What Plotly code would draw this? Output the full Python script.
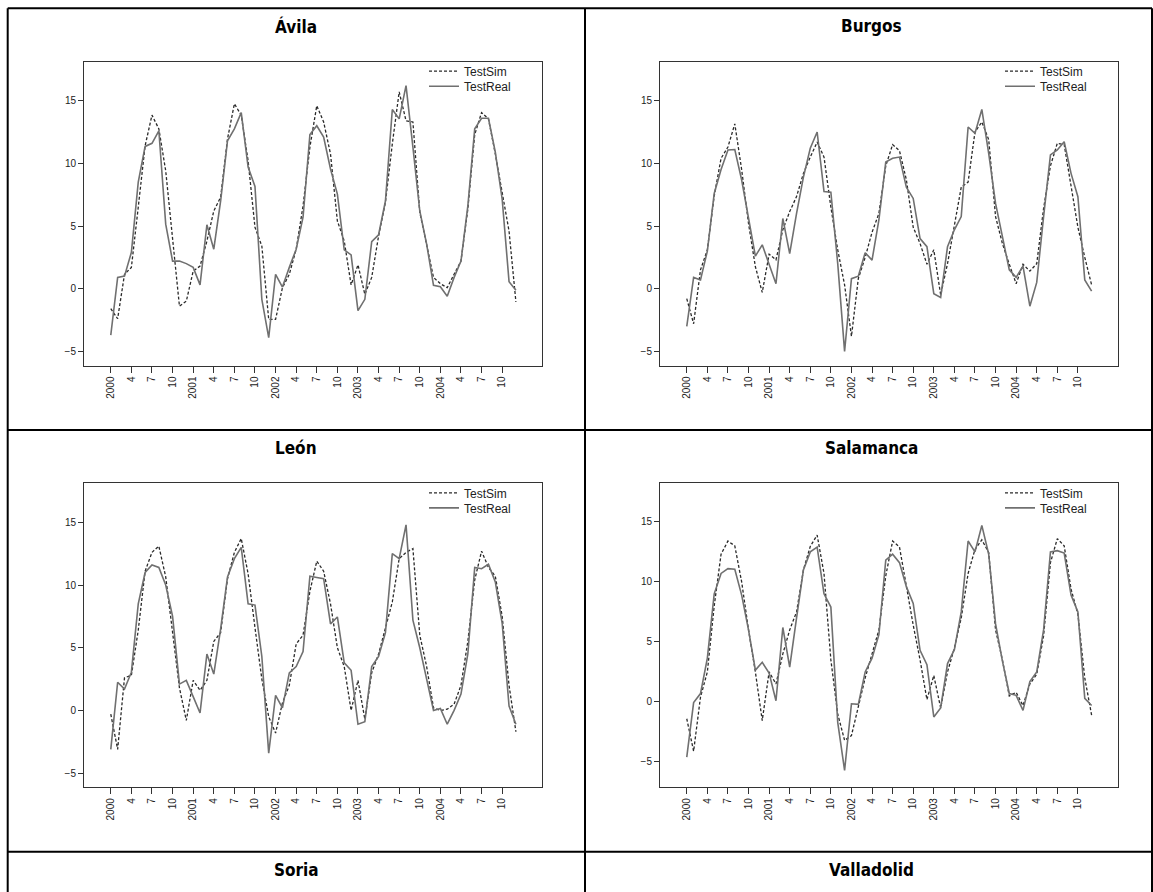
import plotly.graph_objects as go

W, H = 1153, 892

# month index 0..59 = Jan 2000 .. Dec 2004, ticks every quarter
tick_idx = list(range(0, 60, 3))
tick_text = ["2000", "4", "7", "10", "2001", "4", "7", "10", "2002", "4", "7", "10",
             "2003", "4", "7", "10", "2004", "4", "7", "10"]

avila_sim = [-1.6, -2.4, 1.15, 1.7, 6.5, 11.4, 13.85, 12.75, 9.4, 3.8,
             -1.4, -1.0, 1.4, 1.8, 3.8, 6.2, 7.3, 11.95, 14.75, 13.85,
             10.2, 4.9, 3.4, -2.45, -2.45, 0.08, 1.15, 3.15, 6.6, 11.3,
             14.6, 13.3, 10.75, 5.4, 3.8, 0.3, 1.9, -0.45, 0.9, 4.2,
             6.9, 11.55, 15.7, 13.4, 13.3, 6.1, 3.4, 0.9, 0.4, 0.08,
             1.15, 2.2, 6.35, 12.3, 14.05, 13.55, 10.75, 7.8, 4.6, -1.05]
avila_real = [-3.7, 0.9, 1.0, 2.9, 8.5, 11.35, 11.6, 12.6, 5.15, 2.2,
              2.2, 2.0, 1.7, 0.3, 5.1, 3.15, 7.0, 11.8, 12.75, 14.05,
              9.7, 8.15, -0.85, -3.9, 1.15, 0.13, 1.7, 3.15, 5.7, 12.3,
              13.0, 12.1, 9.55, 7.55, 3.1, 2.7, -1.75, -0.85, 3.75, 4.3,
              7.0, 14.3, 13.55, 16.2, 11.3, 6.2, 3.55, 0.27, 0.16, -0.6,
              0.9, 2.2, 6.6, 12.75, 13.6, 13.6, 10.9, 7.15, 0.56, -0.13]

burgos_sim = [-0.8, -2.8, 1.5, 3.1, 7.4, 10.4, 11.3, 13.15, 9.5, 5.2,
              1.75, -0.3, 2.75, 2.3, 4.7, 6.15, 7.35, 9.2, 10.5, 11.7,
              10.5, 6.5, 3.1, 0.3, -3.8, 0.8, 2.5, 4.5, 6.0, 9.8,
              11.5, 11.0, 8.7, 4.9, 3.6, 1.95, 3.1, -0.5, 2.0, 4.9,
              8.1, 8.5, 12.5, 13.3, 11.9, 5.75, 3.6, 1.95, 0.4, 1.95,
              1.4, 2.0, 6.4, 9.8, 11.6, 11.5, 8.1, 4.9, 2.5, 0.3]
burgos_real = [-3.0, 0.9, 0.7, 3.0, 7.6, 9.5, 11.07, 11.1, 8.67, 5.75,
               2.6, 3.5, 2.0, 0.4, 5.6, 2.8, 6.0, 8.9, 11.2, 12.5,
               7.75, 7.7, 2.0, -5.0, 0.8, 1.0, 2.87, 2.28, 5.48, 10.1,
               10.4, 10.5, 8.1, 7.2, 4.0, 3.35, -0.4, -0.7, 3.35, 4.7,
               5.75, 12.9, 12.4, 14.3, 10.8, 6.8, 4.15, 1.5, 0.9, 1.8,
               -1.4, 0.5, 5.75, 10.67, 11.07, 11.73, 9.2, 7.34, 0.7, -0.2]

leon_sim = [-0.3, -3.1, 2.6, 2.8, 6.4, 11.1, 12.6, 13.1, 10.65, 6.0,
            1.8, -0.8, 2.4, 1.6, 2.4, 5.5, 6.2, 10.5, 12.6, 13.7,
            10.9, 6.6, 2.5, -0.5, -1.8, 0.6, 2.0, 5.3, 6.0, 9.5,
            11.9, 11.1, 8.5, 5.0, 3.5, 0.0, 2.4, -0.7, 3.0, 4.5,
            6.5, 8.65, 12.1, 12.6, 12.9, 6.0, 3.5, 0.2, 0.0, 0.1,
            0.5, 2.0, 5.5, 10.4, 12.7, 11.4, 10.7, 7.5, 2.0, -1.7]
leon_real = [-3.1, 2.25, 1.7, 3.05, 8.5, 11.0, 11.6, 11.4, 10.0, 7.5,
             2.1, 2.4, 1.1, -0.2, 4.5, 2.9, 6.5, 10.65, 12.1, 13.0,
             8.5, 8.4, 4.3, -3.4, 1.2, 0.2, 3.0, 3.5, 4.7, 10.7,
             10.6, 10.5, 6.9, 7.45, 3.8, 3.2, -1.1, -0.9, 3.5, 4.3,
             6.2, 12.5, 12.1, 14.8, 7.2, 5.0, 2.5, 0.0, 0.15, -1.1,
             0.0, 1.3, 4.5, 11.4, 11.3, 11.65, 10.25, 6.95, 0.35, -1.1]

salamanca_sim = [-1.4, -4.1, 0.4, 2.5, 8.0, 12.3, 13.4, 13.0, 10.0, 6.0,
                 2.5, -1.55, 2.5, 1.5, 4.0, 6.0, 7.5, 11.0, 12.95, 13.9,
                 10.7, 3.5, -1.0, -3.2, -2.8, -0.5, 2.0, 4.0, 6.0, 10.5,
                 13.4, 12.9, 9.6, 6.4, 3.5, 0.2, 2.2, -0.5, 2.5, 4.5,
                 7.0, 10.7, 12.7, 13.5, 12.45, 6.0, 3.5, 0.5, 0.8, -0.3,
                 1.5, 2.3, 5.5, 11.6, 13.6, 13.0, 9.4, 7.3, 2.0, -1.1]
salamanca_real = [-4.6, -0.05, 0.7, 3.65, 9.0, 10.7, 11.1, 11.05, 8.9, 6.0,
                  2.65, 3.3, 2.4, 0.1, 6.2, 2.9, 7.0, 11.0, 12.5, 12.9,
                  9.0, 7.9, -1.7, -5.7, -0.15, -0.2, 2.5, 3.65, 5.6, 11.8,
                  12.3, 11.6, 9.6, 8.2, 4.3, 3.1, -1.25, -0.5, 3.2, 4.35,
                  7.5, 13.4, 12.5, 14.7, 12.3, 6.5, 3.4, 0.7, 0.55, -0.7,
                  1.7, 2.5, 6.0, 12.5, 12.6, 12.4, 8.9, 7.5, 0.3, -0.3]

titles = ["Ávila", "Burgos", "León", "Salamanca", "Soria", "Valladolid"]
panels = [
    (avila_sim, avila_real, [-6.13, 18.11]),
    (burgos_sim, burgos_real, [-6.13, 18.11]),
    (leon_sim, leon_real, [-6.12, 18.1]),
    (salamanca_sim, salamanca_real, [-7.1, 18.2]),
]

months = list(range(60))

# pixel geometry of the table
ROW_TOP = [8.3, 430.0, 851.7]
COL_X = [7.7, 585.0, 1152.0]
PLOT_X = [(84.0, 542.0), (660.0, 1117.7)]
PLOT_TOP_OFF, PLOT_BOT_OFF = 53.4, 357.2

def px(x):
    return x / W

def py(y):
    return 1 - y / H

FONT = "Liberation Sans, Arial, sans-serif"
TITLE_FONT = "Liberation Sans Narrow, DejaVu Sans Condensed, Arial Narrow, sans-serif"

SERIES = [("TestSim", dict(color="#2a2a2a", width=1.3, dash="3px,2px")),
          ("TestReal", dict(color="#707070", width=1.6))]

fig = go.Figure()
layout = dict(width=W, height=H, margin=dict(l=0, r=0, t=0, b=0),
              paper_bgcolor="white", plot_bgcolor="white", showlegend=True)

for k, (sim, real, yr) in enumerate(panels):
    row, col = divmod(k, 2)
    n = "" if k == 0 else str(k + 1)
    x0, x1 = PLOT_X[col]
    top = ROW_TOP[row] + PLOT_TOP_OFF
    bot = ROW_TOP[row] + PLOT_BOT_OFF
    for j, ((name, line), vals) in enumerate(zip(SERIES, (sim, real))):
        li = 2 * k + j + 1
        lg = "legend" if li == 1 else f"legend{li}"
        fig.add_trace(go.Scatter(x=months, y=vals, mode="lines", name=name,
                                 xaxis="x" + n, yaxis="y" + n, legend=lg, line=line))
        # one legend entry per series, stacked at the top right of the panel
        layout[lg] = dict(x=px(x0 + 340), y=py(top - 5 + 15 * j),
                          xanchor="left", yanchor="top", itemwidth=30,
                          bgcolor="rgba(0,0,0,0)", borderwidth=0,
                          font=dict(family=FONT, size=12, color="#222"))
    layout["xaxis" + n] = dict(
        domain=[px(x0), px(x1)], anchor="y" + n, range=[-3.9, 62.8],
        tickmode="array", tickvals=tick_idx, ticktext=tick_text, tickangle=-90,
        ticks="outside", ticklen=6, tickwidth=1, tickcolor="#333",
        showline=True, linecolor="#333", linewidth=1, mirror=True,
        showgrid=False, zeroline=False,
        tickfont=dict(family=FONT, size=10, color="#222"))
    layout["yaxis" + n] = dict(
        domain=[py(bot), py(top)], anchor="x" + n, range=yr,
        tickvals=[-5, 0, 5, 10, 15], ticks="outside", ticklen=5, tickwidth=1,
        tickcolor="#333", showline=True, linecolor="#333", linewidth=1, mirror=True,
        showgrid=False, zeroline=False,
        tickfont=dict(family=FONT, size=10, color="#222"))

fig.update_layout(**layout)

# table grid lines
shapes = []
for y in ROW_TOP:
    shapes.append(dict(type="line", xref="paper", yref="paper",
                       x0=px(COL_X[0]), x1=px(COL_X[2]), y0=py(y), y1=py(y),
                       line=dict(color="black", width=2)))
for x in COL_X:
    shapes.append(dict(type="line", xref="paper", yref="paper",
                       x0=px(x), x1=px(x), y0=py(ROW_TOP[0]), y1=0,
                       line=dict(color="black", width=2)))
fig.update_layout(shapes=shapes)

# cell titles
for k, t in enumerate(titles):
    row, col = divmod(k, 2)
    cx = (COL_X[col] + COL_X[col + 1]) / 2 if col == 0 else 871
    fig.add_annotation(text=f"<b>{t}</b>", x=px(cx), y=py(ROW_TOP[row] + 18),
                       xref="paper", yref="paper", showarrow=False,
                       xanchor="center", yanchor="middle",
                       font=dict(family=TITLE_FONT, size=17, color="black"))

fig.write_html("out.html")
